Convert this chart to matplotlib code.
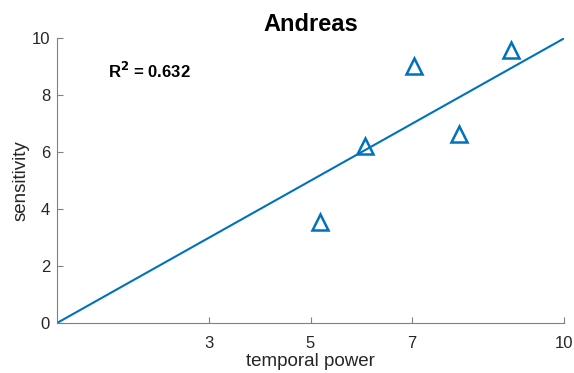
import matplotlib
matplotlib.use("Agg")
from matplotlib import pyplot as plt

plt.rcParams['font.family'] = ['Liberation Sans', 'DejaVu Sans']

# data
temporal_power = [5.19, 6.07, 7.04, 7.93, 8.95]
sensitivity = [3.55, 6.22, 9.03, 6.64, 9.61]
fit_x = [0, 10]
fit_y = [0, 10]
x_ticks = [3, 5, 7, 10]
y_ticks = [0, 2, 4, 6, 8, 10]
r2 = 0.632

blue = '#0072BD'
grey = '#262626'

fig = plt.figure(figsize=(5.74, 3.73), dpi=100)
ax = fig.add_axes([0.0993, 0.134, 0.8833, 0.763])

ax.plot(fit_x, fit_y, color=blue, linewidth=1.5)
ax.plot(temporal_power, sensitivity, linestyle='none', marker='^', markersize=11,
        markerfacecolor='none', markeredgecolor=blue, markeredgewidth=1.8)

ax.set_xlim(0, 10)
ax.set_ylim(0, 10)
ax.set_xticks(x_ticks)
ax.set_yticks(y_ticks)
ax.tick_params(direction='in', length=4, colors='#808080', labelcolor=grey, labelsize=12)
ax.tick_params(axis='x', pad=9)
ax.tick_params(axis='y', pad=5)

for side in ['top', 'right']:
    ax.spines[side].set_visible(False)
for side in ['left', 'bottom']:
    ax.spines[side].set_color('#808080')
    ax.spines[side].set_linewidth(0.8)

ax.set_xlabel('temporal power', fontsize=13.5, color=grey, labelpad=1.5)
ax.set_ylabel('sensitivity', fontsize=13.5, color=grey, labelpad=1.5)
ax.set_title('Andreas', fontsize=17, fontweight='bold', pad=5)
ax.text(1.0, 8.85, r'R$^\mathbf{2}$ = %.3f' % r2, fontsize=12, fontweight='bold',
        va='center', ha='left')

plt.savefig('out.png', dpi=100)
plt.close()
